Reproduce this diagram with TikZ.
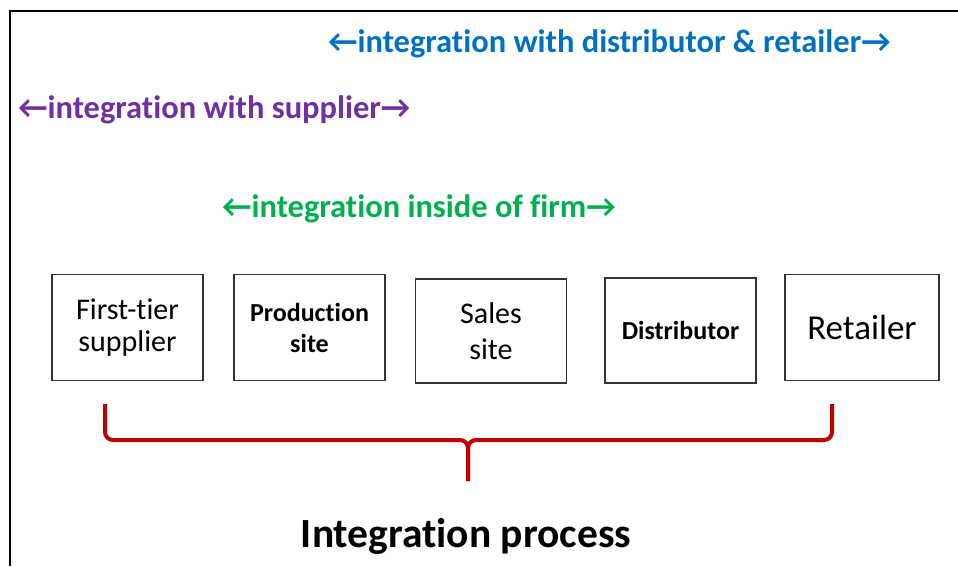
\documentclass[tikz,border=0pt]{standalone}
\usepackage{fontspec}
\setmainfont[Ligatures=NoCommon]{Carlito}
\usetikzlibrary{positioning}
\definecolor{intblue}{RGB}{0,112,192}
\definecolor{intpurple}{RGB}{112,48,160}
\definecolor{intgreen}{RGB}{0,176,80}
\definecolor{intred}{RGB}{192,0,0}
\tikzset{%
stage/.style={draw=black!80,line width=1.6pt,minimum width=151pt,minimum height=106pt,
  inner sep=0pt,align=center,text=black},
scope/.style={text=#1,font=\fontsize{32.5}{36}\selectfont\bfseries,inner sep=0pt,anchor=base west},
brace/.style={draw=intred,line width=4pt,rounded corners=8pt},
}

\begin{document}
\begin{tikzpicture}[x=1pt,y=-1pt]
    \useasboundingbox (0,0) rectangle (958,566);
    \draw[line width=2pt] (958,11) -- (10,11) -- (10,566);
    % how far the integration reaches
    \node[scope=intblue] (dist) at (328,52) {←integration with distributor \& retailer→};
    \node[scope=intpurple] (supp) at (18,118) {←integration with supplier→};
    \node[scope=intgreen] (firm) at (222,217) {←integration inside of firm→};
    % the chain
    \node[stage,font=\fontsize{30}{32}\selectfont] (tier) at (127.5,327.5) {First-tier\\supplier};
    \node[stage,font=\fontsize{26}{31}\selectfont\bfseries] (prod) at (309.5,327.5) {Production\\site};
    \node[stage,font=\fontsize{30}{36}\selectfont,minimum height=104pt] (sale) at (491,331) {Sales\\site};
    \node[stage,font=\fontsize{26}{31}\selectfont\bfseries,minimum height=105pt] (distr) at (680.5,330.5) {Distributor};
    \node[stage,font=\fontsize{35}{40}\selectfont,minimum width=154pt] (ret) at (862,327.5) {Retailer};
    % brace under the chain
    \coordinate (bl) at (105,404);
    \coordinate (br) at (832,404);
    \coordinate (bm) at (468,440);
    \coordinate (bt) at (468,481);
    \draw[brace] (bl) |- (bm) -- (bt);
    \draw[brace] (br) |- (bm) -- (bt);
    \node[font=\fontsize{41.5}{46}\selectfont\bfseries,inner sep=0pt,anchor=base] (proc) at (466,547) {Integration process};
\end{tikzpicture}
\end{document}
